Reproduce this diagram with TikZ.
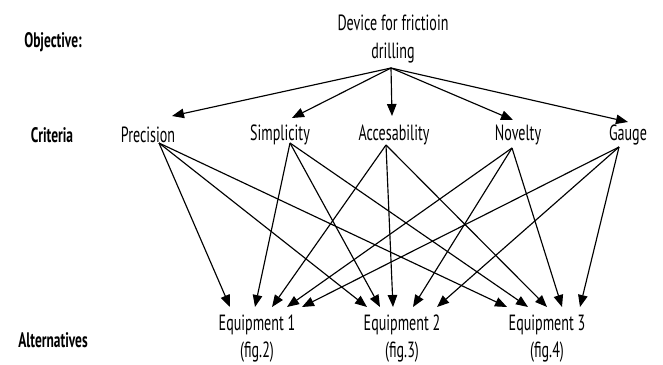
\documentclass[tikz,border=0pt]{standalone}
\usepackage{fontspec}
\setmainfont{PT Sans}[FakeStretch=0.64]
\usetikzlibrary{arrows.meta}
\begin{document}
\begin{tikzpicture}[x=1pt,y=-1pt,
  txt/.style={inner sep=0pt,align=center,font=\fontsize{22}{28}\selectfont},
  lbl/.style={inner sep=0pt,font=\fontsize{21}{24}\selectfont\bfseries},
  arr/.style={line width=1.15pt,-{Triangle[length=12pt,width=9.5pt]}}]
\useasboundingbox (0,0) rectangle (663,364);
% labels
\node[lbl] (lobj) at (53,42) {Objective:};
\node[lbl] (lcri) at (52,135) {Criteria};
\node[lbl] (lalt) at (53,340) {Alternatives};
% objective
\node[txt] (dev) at (393,39) {Device for frictioin\\drilling};
\coordinate (devo) at (391,68);
% criteria
\node[txt] (P) at (148,135) {Precision};
\node[txt] (S) at (280,135) {Simplicity};
\node[txt] (A) at (394,135) {Accesability};
\node[txt] (N) at (518,135) {Novelty};
\node[txt] (G) at (628,135) {Gauge};
% tips on criteria
\coordinate (Pt) at (172,116);
\coordinate (St) at (292,118);
\coordinate (At) at (392,116);
\coordinate (Nt) at (513,120);
\coordinate (Gt) at (628,122);
% out points of criteria
\coordinate (Po) at (159,143);
\coordinate (So) at (290,143);
\coordinate (Ao) at (386,145);
\coordinate (No) at (512,148);
\coordinate (Go) at (619,147);
% alternatives
\node[txt,font=\fontsize{22}{27}\selectfont] (E1) at (257,339) {Equipment 1\\(fig.2)};
\node[txt,font=\fontsize{22}{27}\selectfont] (E2) at (402,339) {Equipment 2\\(fig.3)};
\node[txt,font=\fontsize{22}{27}\selectfont] (E3) at (547,339) {Equipment 3\\(fig.4)};
% tips on alternatives
\coordinate (E1P) at (230,307);
\coordinate (E1S) at (255,307);
\coordinate (E1A) at (272,307);
\coordinate (E1N) at (287,307);
\coordinate (E1G) at (302,307);
\coordinate (E2P) at (367,307);
\coordinate (E2S) at (380,307);
\coordinate (E2A) at (393,307);
\coordinate (E2N) at (413,307);
\coordinate (E2G) at (437,307);
\coordinate (E3P) at (507,307);
\coordinate (E3S) at (528,307);
\coordinate (E3A) at (547,307);
\coordinate (E3N) at (562,307);
\coordinate (E3G) at (580,307);
% top arrows
\foreach \c in {P,S,A,N,G}{
  \draw[arr] (devo) -- (\c t);
}
% criteria to alternatives
\foreach \c in {P,S,A,N,G}{
  \foreach \e in {E1,E2,E3}{
    \draw[arr] (\c o) -- (\e\c);
  }
}
\end{tikzpicture}
\end{document}
